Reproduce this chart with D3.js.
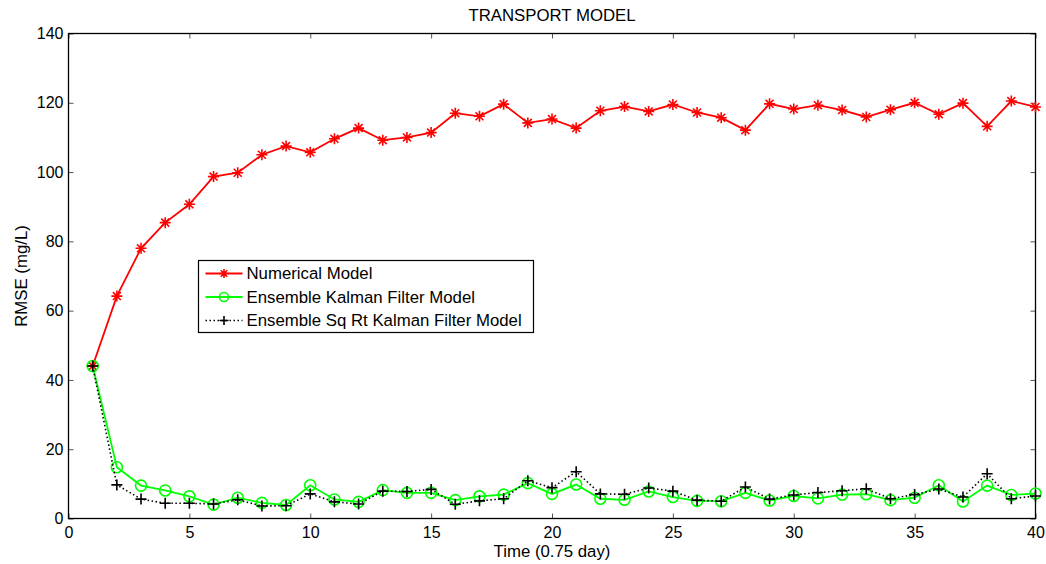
<!DOCTYPE html>
<html>
<head>
<meta charset="utf-8">
<script src="https://cdn.jsdelivr.net/npm/d3@7"></script>
<style>
  body { margin: 0; background: #fff; }
  svg text { font-family: "Liberation Sans", Arial, sans-serif; fill: #000; }
</style>
</head>
<body>
<div id="chart"></div>
<script>
const steps = d3.range(1, 41);

const numericalModel = [44.0, 64.2, 78.0, 85.4, 90.7, 98.7, 99.8, 105.0, 107.5, 105.7,
    109.6, 112.7, 109.2, 110.0, 111.4, 117.0, 116.1, 119.6, 114.2, 115.3,
    112.7, 117.7, 118.9, 117.5, 119.5, 117.2, 115.7, 112.1, 119.7, 118.2,
    119.3, 117.9, 115.9, 118.0, 120.0, 116.7, 119.9, 113.2, 120.5, 118.8];

const enkfModel = [44.0, 14.8, 9.5, 8.1, 6.4, 4.0, 6.0, 4.5, 3.9, 9.6,
    5.5, 4.8, 8.2, 7.4, 7.4, 5.3, 6.4, 6.9, 10.2, 7.1,
    9.8, 5.7, 5.4, 7.8, 6.2, 5.1, 5.0, 7.4, 5.2, 6.5,
    5.8, 6.9, 7.0, 5.3, 6.0, 9.6, 4.9, 9.5, 6.8, 7.2];

const sqrtModel = [44.0, 9.7, 5.6, 4.4, 4.4, 4.2, 5.4, 3.6, 3.7, 7.1,
    4.8, 4.2, 7.9, 7.8, 8.4, 4.1, 5.1, 5.7, 10.9, 8.9,
    13.5, 7.1, 7.0, 8.8, 7.9, 5.3, 5.0, 9.1, 5.6, 6.8,
    7.5, 8.0, 8.6, 5.7, 6.9, 8.5, 6.2, 12.9, 5.7, 6.5];

const xTicks = [0, 5, 10, 15, 20, 25, 30, 35, 40];
const yTicks = [0, 20, 40, 60, 80, 100, 120, 140];

const seriesNames = ["Numerical Model", "Ensemble Kalman Filter Model", "Ensemble Sq Rt Kalman Filter Model"];

const width = 1046, height = 564;
const margin = {top: 33.5, right: 10.5, bottom: 45.5, left: 68.5};
const innerW = width - margin.left - margin.right;
const innerH = height - margin.top - margin.bottom;
const fontSize = "16.8px";

const svg = d3.select("#chart").append("svg")
    .attr("width", width)
    .attr("height", height);

const g = svg.append("g")
    .attr("transform", `translate(${margin.left},${margin.top})`);

const x = d3.scaleLinear().domain([0, 40]).range([0, innerW]);
const y = d3.scaleLinear().domain([0, 140]).range([innerH, 0]);

// ticks on all four sides, pointing inward (matlab style)
const tickLen = 5;
g.append("g")
    .attr("transform", `translate(0,${innerH})`)
    .call(d3.axisBottom(x).tickValues(xTicks).tickSize(-tickLen).tickPadding(8))
    .call(a => a.select(".domain").remove());
g.append("g")
    .call(d3.axisTop(x).tickValues(xTicks).tickSize(-tickLen).tickFormat(""))
    .call(a => a.select(".domain").remove());
g.append("g")
    .call(d3.axisLeft(y).tickValues(yTicks).tickSize(-tickLen).tickPadding(5))
    .call(a => a.select(".domain").remove());
g.append("g")
    .attr("transform", `translate(${innerW},0)`)
    .call(d3.axisRight(y).tickValues(yTicks).tickSize(-tickLen).tickFormat(""))
    .call(a => a.select(".domain").remove());

g.selectAll(".tick line").attr("stroke", "#555").attr("stroke-width", 1);
g.selectAll(".tick text")
    .style("font-size", "16px")
    .style("font-family", "'Liberation Sans', Arial, sans-serif");

g.append("rect")
    .attr("width", innerW)
    .attr("height", innerH)
    .attr("fill", "none")
    .attr("stroke", "#000")
    .attr("stroke-width", 1.3);

const line = d3.line()
    .x((d, i) => x(steps[i]))
    .y(d => y(d));

function drawStar(sel, r) {
    sel.append("path")
        .attr("d", `M${-r},0H${r}M0,${-r}V${r}M${-r * 0.72},${-r * 0.72}L${r * 0.72},${r * 0.72}M${-r * 0.72},${r * 0.72}L${r * 0.72},${-r * 0.72}`)
        .attr("stroke", "#ff0000")
        .attr("stroke-width", 1.6);
}
function drawCircle(sel, r) {
    sel.append("circle")
        .attr("r", r)
        .attr("fill", "none")
        .attr("stroke", "#00ff00")
        .attr("stroke-width", 1.6);
}
function drawPlus(sel, r) {
    sel.append("path")
        .attr("d", `M${-r},0H${r}M0,${-r}V${r}`)
        .attr("stroke", "#000")
        .attr("stroke-width", 1.6);
}

const series = [
    {name: seriesNames[0], values: numericalModel, color: "#ff0000", dash: null, marker: drawStar, r: 5.5},
    {name: seriesNames[1], values: enkfModel, color: "#00ff00", dash: null, marker: drawCircle, r: 5.5},
    {name: seriesNames[2], values: sqrtModel, color: "#000000", dash: "1.5,2.5", marker: drawPlus, r: 5.5}
];

series.forEach(s => {
    g.append("path")
        .datum(s.values)
        .attr("fill", "none")
        .attr("stroke", s.color)
        .attr("stroke-width", s.dash ? 1.6 : 1.8)
        .attr("stroke-dasharray", s.dash)
        .attr("d", line);

    g.selectAll(null)
        .data(s.values)
        .enter().append("g")
        .attr("transform", (d, i) => `translate(${x(steps[i])},${y(d)})`)
        .each(function() { s.marker(d3.select(this), s.r); });
});

// legend
const legend = svg.append("g").attr("transform", "translate(198.5,260.5)");
legend.append("rect")
    .attr("width", 335)
    .attr("height", 72)
    .attr("fill", "#fff")
    .attr("stroke", "#000")
    .attr("stroke-width", 1.2);

series.forEach((s, i) => {
    const row = legend.append("g").attr("transform", `translate(0,${13 + i * 23.5})`);
    row.append("line")
        .attr("x1", 7).attr("x2", 44)
        .attr("stroke", s.color)
        .attr("stroke-width", s.dash ? 1.6 : 1.8)
        .attr("stroke-dasharray", s.dash);
    const m = row.append("g").attr("transform", "translate(25.5,0)");
    s.marker(m, 4.5);
    row.append("text")
        .attr("x", 48)
        .attr("dy", "0.35em")
        .style("font-size", fontSize)
        .text(s.name);
});

// title and axis labels
svg.append("text")
    .attr("x", margin.left + innerW / 2)
    .attr("y", 21)
    .attr("text-anchor", "middle")
    .style("font-size", fontSize)
    .text("TRANSPORT MODEL");

svg.append("text")
    .attr("x", margin.left + innerW / 2)
    .attr("y", 557)
    .attr("text-anchor", "middle")
    .style("font-size", fontSize)
    .text("Time (0.75 day)");

svg.append("text")
    .attr("transform", `translate(27,${margin.top + innerH / 2}) rotate(-90)`)
    .attr("text-anchor", "middle")
    .style("font-size", fontSize)
    .text("RMSE (mg/L)");
</script>
</body>
</html>
